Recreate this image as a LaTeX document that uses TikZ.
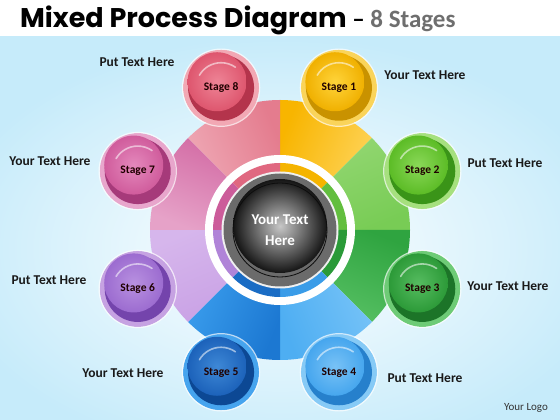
\documentclass[tikz,border=0pt]{standalone}
\usepackage{fontspec}
\setmainfont{Carlito}
\newfontfamily\titlefont{Poppins}
\usetikzlibrary{calc}
\definecolor{bgblue}{HTML}{C6EBFA}
\definecolor{titlegray}{HTML}{6E6E6E}
% sector colours (a = at counter-clockwise edge, b = at clockwise edge)
\definecolor{s1a}{HTML}{F8B500}\definecolor{s1b}{HTML}{FFD764}\definecolor{s1d}{HTML}{F5B400}
\definecolor{s2a}{HTML}{96D875}\definecolor{s2b}{HTML}{78CC55}\definecolor{s2d}{HTML}{62BE3E}
\definecolor{s3a}{HTML}{2FA440}\definecolor{s3b}{HTML}{5CC468}\definecolor{s3d}{HTML}{2A9A38}
\definecolor{s4a}{HTML}{7CC6F8}\definecolor{s4b}{HTML}{4EAEF2}\definecolor{s4d}{HTML}{3A9CE8}
\definecolor{s5a}{HTML}{1C78D2}\definecolor{s5b}{HTML}{3EA2F0}\definecolor{s5d}{HTML}{1A6CC4}
\definecolor{s6a}{HTML}{C79EE4}\definecolor{s6b}{HTML}{D6B6EC}\definecolor{s6d}{HTML}{B084D8}
\definecolor{s7a}{HTML}{E6A2C8}\definecolor{s7b}{HTML}{D0639F}\definecolor{s7d}{HTML}{CC5C9A}
\definecolor{s8a}{HTML}{F0AEBA}\definecolor{s8b}{HTML}{E47C8E}\definecolor{s8d}{HTML}{E06880}
% stage button colours: halo, ring, button, button light
\definecolor{h1}{HTML}{FAD45A}\definecolor{r1}{HTML}{C99200}\definecolor{b1}{HTML}{F0B000}\definecolor{l1}{HTML}{FFD43A}
\definecolor{h2}{HTML}{A6E07E}\definecolor{r2}{HTML}{3A9418}\definecolor{b2}{HTML}{5CBC26}\definecolor{l2}{HTML}{8AD858}
\definecolor{h3}{HTML}{6ECB76}\definecolor{r3}{HTML}{1C7428}\definecolor{b3}{HTML}{2C9A38}\definecolor{l3}{HTML}{56BC60}
\definecolor{h4}{HTML}{86CAF6}\definecolor{r4}{HTML}{2680CC}\definecolor{b4}{HTML}{46A6EE}\definecolor{l4}{HTML}{78C2F6}
\definecolor{h5}{HTML}{46A4EE}\definecolor{r5}{HTML}{0C4894}\definecolor{b5}{HTML}{1C62BA}\definecolor{l5}{HTML}{3E88D6}
\definecolor{h6}{HTML}{C6A2E2}\definecolor{r6}{HTML}{7444AC}\definecolor{b6}{HTML}{9C6CD0}\definecolor{l6}{HTML}{B890E0}
\definecolor{h7}{HTML}{E8A6CC}\definecolor{r7}{HTML}{A63A7A}\definecolor{b7}{HTML}{D05C9C}\definecolor{l7}{HTML}{E488BC}
\definecolor{h8}{HTML}{F2A8B4}\definecolor{r8}{HTML}{B4344C}\definecolor{b8}{HTML}{DE566E}\definecolor{l8}{HTML}{EE8496}
\tikzset{
  lbl/.style={font=\bfseries\fontsize{13.5}{15}\selectfont, text=black!90, inner sep=0pt},
  stagetxt/.style={font=\bfseries\fontsize{11.5}{13}\selectfont, text=black!80!red!60!black, inner sep=0pt},
  centertxt/.style={font=\bfseries\fontsize{15}{21}\selectfont, text=white, align=center, inner sep=0pt},
}
\begin{document}
\begin{tikzpicture}[x=1pt,y=1pt]
\useasboundingbox (0,0) rectangle (560,420);
\fill[white] (0,0) rectangle (560,420);
\shade[inner color=white, outer color=bgblue] (-60,-40) rectangle (620,384);
\fill[white] (0,384) rectangle (560,420);
% title
\node[anchor=base west, inner sep=0pt] (title) at (20,392)
  {{\titlefont\bfseries\fontsize{27}{30}\selectfont Mixed Process Diagram}\fontsize{25}{28}\selectfont\ \textbf{–} {\bfseries\color{titlegray}8 Stages}};
\begin{scope}[shift={(280,190)}]
  % wheel sectors
  \foreach \k/\ca/\cb in {1/s1a/s1b,2/s2a/s2b,3/s3a/s3b,4/s4a/s4b,5/s5a/s5b,6/s6a/s6b,7/s7a/s7b,8/s8a/s8b}{
    \pgfmathsetmacro{\aa}{90-45*(\k-1)}
    \pgfmathsetmacro{\ab}{\aa-45}
    \pgfmathsetmacro{\am}{\aa-22.5}
    \shade[top color=\ca, bottom color=\cb, shading angle=\am]
      (0,0) -- (\aa:130) arc[start angle=\aa, end angle=\ab, radius=130] -- cycle;
  }
  % white ring
  \fill[white] (0,0) circle (75);
  \foreach \k/\cd in {1/s1d,2/s2d,3/s3d,4/s4d,5/s5d,6/s6d,7/s7d,8/s8d}{
    \pgfmathsetmacro{\aa}{90-45*(\k-1)}
    \pgfmathsetmacro{\ab}{\aa-45}
    \fill[\cd] (0,0) -- (\aa:67) arc[start angle=\aa, end angle=\ab, radius=67] -- cycle;
  }
  \fill[white!88!gray] (0,0) circle (58.5);
  \fill[black!58] (0,0) circle (56.5);
  \shade[inner color=black!22, outer color=black!92] (0,4) circle (47);
  \draw[black!95, line width=0.8pt] (0,0) circle (47);
  \node[centertxt] (center) at (0,0) {Your Text\\Here};
  % stage buttons
  \foreach \k/\h/\r/\b/\l in {1/h1/r1/b1/l1,2/h2/r2/b2/l2,3/h3/r3/b3/l3,4/h4/r4/b4/l4,5/h5/r5/b5/l5,6/h6/r6/b6/l6,7/h7/r7/b7/l7,8/h8/r8/b8/l8}{
    \pgfmathsetmacro{\am}{67.5-45*(\k-1)}
    \begin{scope}[shift={(\am:154)}]
      \fill[\h] (0,0) circle (38);
      \draw[white, line width=1.2pt, opacity=0.7] (0,0) circle (38.6);
      \fill[\r] (0,0) circle (33);
      \shade[inner color=\l, outer color=\b] (-4,6) circle (29.5);
      \draw[white, opacity=0.55, line width=1.6pt, line cap=round] (150:25) arc[start angle=150, end angle=55, radius=25];
      \node[stagetxt] (stage\k) at (0,0) {Stage \k};
    \end{scope}
  }
\end{scope}
% side labels
\node[lbl] (t1) at (425,345) {Your Text Here};
\node[lbl] (t2) at (505,257) {Put Text Here};
\node[lbl] (t3) at (508,134) {Your Text Here};
\node[lbl] (t4) at (425,42) {Put Text Here};
\node[lbl] (t5) at (123,47) {Your Text Here};
\node[lbl] (t6) at (49,140) {Put Text Here};
\node[lbl] (t7) at (50,259) {Your Text Here};
\node[lbl] (t8) at (137,358) {Put Text Here};
\node[inner sep=0pt, font=\fontsize{11}{12}\selectfont, text=black!80] (logo) at (526,12) {Your Logo};
\end{tikzpicture}
\end{document}
